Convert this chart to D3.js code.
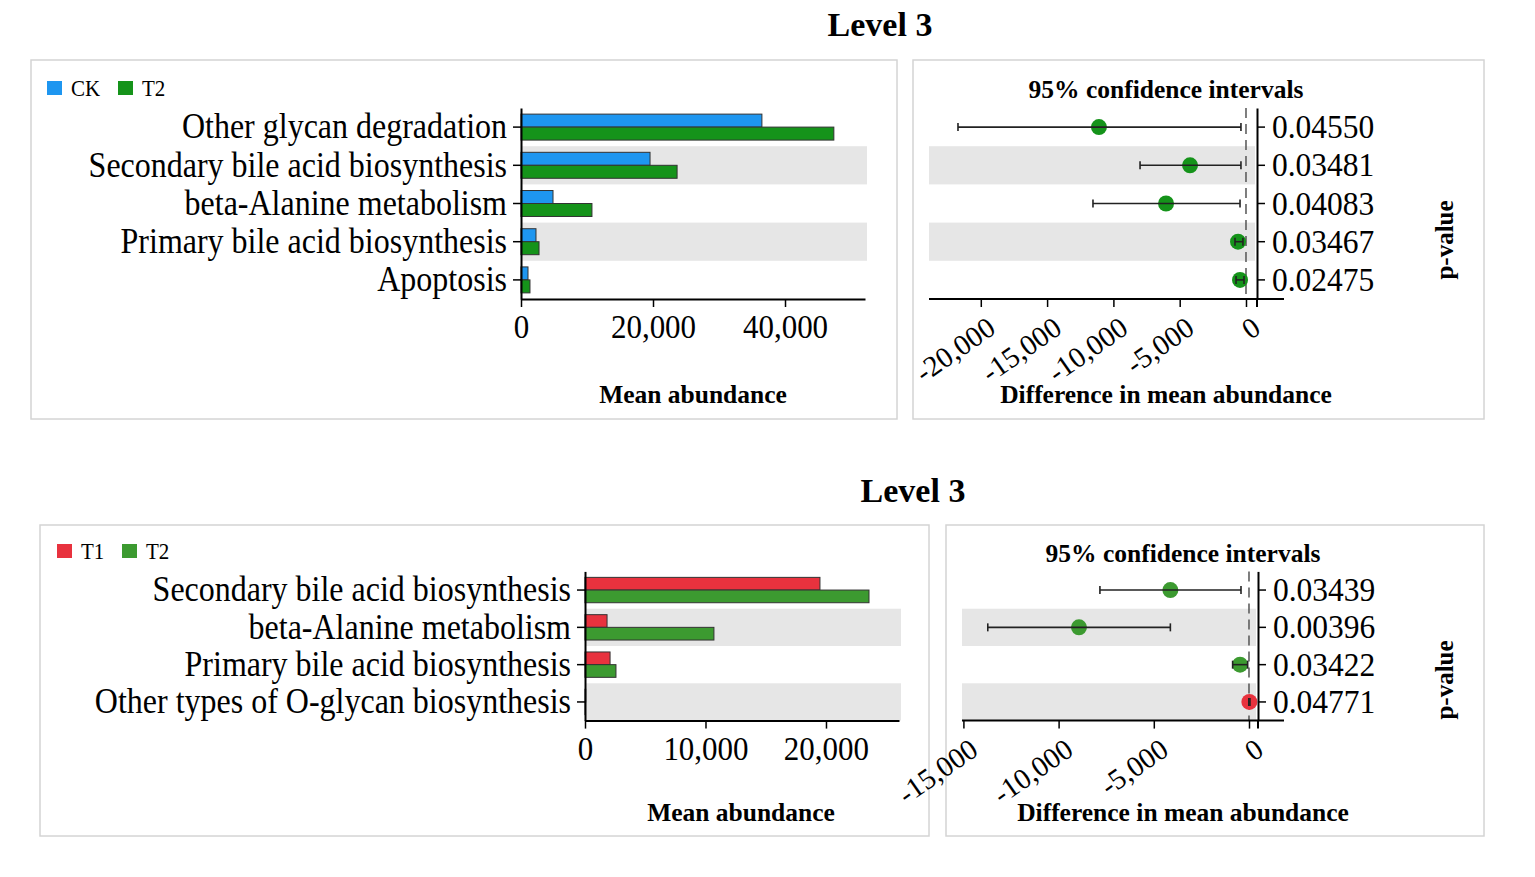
<!DOCTYPE html>
<html>
<head>
<meta charset="utf-8">
<script src="https://cdn.jsdelivr.net/npm/d3@7"></script>
<style>
  body { margin: 0; background: #fff; }
  svg text { font-family: "Liberation Serif", "Times New Roman", Times, serif; fill: #000; }
</style>
</head>
<body>
<div id="chart"></div>
<script>
// ---- data: CK vs T2 ----
const topCategories = [
  "Other glycan degradation",
  "Secondary bile acid biosynthesis",
  "beta-Alanine metabolism",
  "Primary bile acid biosynthesis",
  "Apoptosis"
];
const topCK = [36500, 19550, 4850, 2270, 1060];
const topT2 = [47400, 23650, 10750, 2730, 1360];
const topDiff = [-11090, -4220, -6030, -600, -450];
const topLower = [-21720, -7990, -11540, -830, -750];
const topUpper = [-380, -380, -450, -230, -150];
const topPValues = ["0.04550", "0.03481", "0.04083", "0.03467", "0.02475"];
const topBarTicks = [0, 20000, 40000];
const topDiffTicks = [-20000, -15000, -10000, -5000, 0];

// ---- data: T1 vs T2 ----
const bottomCategories = [
  "Secondary bile acid biosynthesis",
  "beta-Alanine metabolism",
  "Primary bile acid biosynthesis",
  "Other types of O-glycan biosynthesis"
];
const bottomT1 = [19500, 1830, 2080, 60];
const bottomT2 = [23570, 10700, 2570, 30];
const bottomDiff = [-4130, -8930, -470, 20];
const bottomLower = [-7830, -13720, -860, -10];
const bottomUpper = [-420, -4130, -70, 50];
const bottomPValues = ["0.03439", "0.00396", "0.03422", "0.04771"];
const bottomBarTicks = [0, 10000, 20000];
const bottomDiffTicks = [-15000, -10000, -5000, 0];

const svg = d3.select("#chart").append("svg")
  .attr("width", 1535)
  .attr("height", 877);

// plain hyphen for negatives, like the original
const fmt = d3.formatLocale({ decimal: ".", thousands: ",", grouping: [3], currency: ["", ""], minus: "-" }).format(",");
const STRETCH = "scale(1,1.1)";

function frame(b) {
  svg.append("rect")
    .attr("x", b.x).attr("y", b.y).attr("width", b.w).attr("height", b.h)
    .attr("fill", "none").attr("stroke", "#d4d4d4").attr("stroke-width", 1.5);
}

function styleAxis(g) {
  g.selectAll("path.domain").attr("stroke", "#000").attr("stroke-width", 2);
  g.selectAll(".tick line").attr("stroke", "#000").attr("stroke-width", 1.5);
}

function boldLabel(x, y, text, size, rotate) {
  svg.append("text")
    .attr("transform", `translate(${x},${y})` + (rotate ? ` rotate(${rotate})` : ""))
    .attr("text-anchor", "middle").attr("font-size", size).attr("font-weight", "bold")
    .text(text);
}

function drawBars(cfg) {
  frame(cfg.box);
  const p = cfg.plot;
  const x = d3.scaleLinear().domain([0, cfg.max]).range([p.left, p.right]);
  const y = d3.scaleBand().domain(cfg.categories).range([p.top, p.bottom]);
  const step = y.bandwidth();

  // alternating grey rows
  svg.append("g").selectAll("rect")
    .data(cfg.categories.filter((d, i) => i % 2 === 1))
    .join("rect")
    .attr("x", p.left).attr("width", p.right - p.left + 2)
    .attr("y", (d) => y(d)).attr("height", step)
    .attr("fill", "#e6e6e6");

  // bars
  cfg.groups.forEach((grp, gi) => {
    svg.append("g").selectAll("rect")
      .data(grp.values.map((v, i) => ({ c: cfg.categories[i], v })))
      .join("rect")
      .attr("x", x(0))
      .attr("y", (d) => y(d.c) + step * 0.16 + gi * step * 0.34)
      .attr("height", step * 0.34)
      .attr("width", (d) => x(d.v) - x(0))
      .attr("fill", grp.color)
      .attr("stroke", "#333")
      .attr("stroke-width", 1);
  });

  // axes
  const xg = svg.append("g").attr("transform", `translate(0,${p.bottom})`)
    .call(d3.axisBottom(x).tickValues(cfg.ticks).tickFormat(fmt).tickSize(8).tickSizeOuter(0));
  styleAxis(xg);
  xg.selectAll(".tick text")
    .attr("y", 0).attr("dy", 0).attr("font-size", 31)
    .attr("transform", "translate(0,39) " + STRETCH);

  const yg = svg.append("g").attr("transform", `translate(${p.left},0)`)
    .call(d3.axisLeft(y).tickSize(8).tickSizeOuter(0).tickPadding(6));
  styleAxis(yg);
  yg.selectAll(".tick text").attr("font-size", 32).attr("dy", "0.32em").attr("transform", STRETCH);

  // legend
  cfg.groups.forEach((grp, gi) => {
    const lx = cfg.legend.x + gi * cfg.legend.step;
    svg.append("rect")
      .attr("x", lx).attr("y", cfg.legend.y).attr("width", 15).attr("height", 14)
      .attr("fill", grp.color);
    svg.append("text")
      .attr("transform", `translate(${lx + 24},${cfg.legend.y + 15}) ${STRETCH}`)
      .attr("font-size", 21)
      .text(grp.name);
  });

  boldLabel(cfg.xLabel.x, cfg.xLabel.y, "Mean abundance", 25.5);
}

function drawCI(cfg) {
  frame(cfg.box);
  const p = cfg.plot;
  const x = d3.scaleLinear().domain(cfg.domain).range([p.left, p.right]);
  const y = d3.scaleBand().domain(d3.range(cfg.diff.length)).range([p.top, p.bottom]);
  const step = y.bandwidth();
  const cy = (i) => y(i) + step / 2;

  svg.append("g").selectAll("rect")
    .data(d3.range(cfg.diff.length).filter((i) => i % 2 === 1))
    .join("rect")
    .attr("x", p.left).attr("width", p.right - p.left - 2)
    .attr("y", (i) => y(i)).attr("height", step)
    .attr("fill", "#e6e6e6");

  // zero reference
  svg.append("line")
    .attr("x1", x(0)).attr("x2", x(0)).attr("y1", p.top).attr("y2", p.bottom)
    .attr("stroke", "#555").attr("stroke-width", 1.5).attr("stroke-dasharray", "10,6");

  const rows = cfg.diff.map((d, i) => ({ i, d, lo: cfg.lower[i], hi: cfg.upper[i] }));

  svg.append("g").selectAll("circle")
    .data(rows)
    .join("circle")
    .attr("cx", (r) => x(r.d)).attr("cy", (r) => cy(r.i)).attr("r", 8)
    .attr("fill", (r) => (r.d < 0 ? cfg.negColor : cfg.posColor));

  const eb = svg.append("g").attr("stroke", "#222").attr("stroke-width", 1.6);
  eb.selectAll("line.bar").data(rows).join("line").attr("class", "bar")
    .attr("x1", (r) => x(r.lo)).attr("x2", (r) => x(r.hi))
    .attr("y1", (r) => cy(r.i)).attr("y2", (r) => cy(r.i));
  eb.selectAll("line.lo").data(rows).join("line").attr("class", "lo")
    .attr("x1", (r) => x(r.lo)).attr("x2", (r) => x(r.lo))
    .attr("y1", (r) => cy(r.i) - 4).attr("y2", (r) => cy(r.i) + 4);
  eb.selectAll("line.hi").data(rows).join("line").attr("class", "hi")
    .attr("x1", (r) => x(r.hi)).attr("x2", (r) => x(r.hi))
    .attr("y1", (r) => cy(r.i) - 4).attr("y2", (r) => cy(r.i) + 4);

  // x axis, line runs past the p-value axis
  const xg = svg.append("g").attr("transform", `translate(0,${p.bottom})`)
    .call(d3.axisBottom(x).tickValues(cfg.ticks).tickFormat(fmt).tickSize(8).tickSizeOuter(0));
  xg.select("path.domain").remove();
  xg.append("line").attr("x1", p.left).attr("x2", cfg.axisEnd).attr("y1", 0).attr("y2", 0)
    .attr("stroke", "#000").attr("stroke-width", 2);
  styleAxis(xg);
  xg.selectAll(".tick text")
    .attr("x", 0).attr("y", 0).attr("dy", 0)
    .attr("text-anchor", "end")
    .attr("font-size", 29)
    .attr("transform", "translate(16,33) rotate(-35)");

  // p-value axis on the right
  const yg = svg.append("g").attr("transform", `translate(${p.right},0)`)
    .call(d3.axisRight(y).tickSize(8).tickSizeOuter(0).tickPadding(7)
      .tickFormat((i) => cfg.pValues[i]));
  styleAxis(yg);
  yg.append("line").attr("x1", 0).attr("x2", 0).attr("y1", p.bottom).attr("y2", p.bottom + 8)
    .attr("stroke", "#000").attr("stroke-width", 2);
  yg.selectAll(".tick text").attr("font-size", 31.5).attr("dy", "0.32em").attr("transform", STRETCH);

  boldLabel(cfg.title.x, cfg.title.y, "95% confidence intervals", 25.5);
  boldLabel(cfg.xLabel.x, cfg.xLabel.y, "Difference in mean abundance", 25.5);
  boldLabel(cfg.pLabel.x, cfg.pLabel.y, "p-value", 25, -90);
}

// ---- top: CK vs T2 ----
boldLabel(880, 36, "Level 3", 34);
drawBars({
  box: { x: 31, y: 60, w: 866, h: 359 },
  plot: { left: 521, right: 865, top: 108, bottom: 299 },
  categories: topCategories,
  groups: [
    { name: "CK", color: "#1e96f0", values: topCK },
    { name: "T2", color: "#15931a", values: topT2 }
  ],
  max: 52120,
  ticks: topBarTicks,
  legend: { x: 47, y: 81, step: 71 },
  xLabel: { x: 693, y: 403 }
});
drawCI({
  box: { x: 913, y: 60, w: 571, h: 359 },
  plot: { left: 929, right: 1257, top: 108, bottom: 299 },
  axisEnd: 1284,
  domain: [-23906, 830],
  ticks: topDiffTicks,
  diff: topDiff, lower: topLower, upper: topUpper,
  pValues: topPValues,
  negColor: "#15931a", posColor: "#1e96f0",
  title: { x: 1166, y: 98 },
  xLabel: { x: 1166, y: 403 },
  pLabel: { x: 1453, y: 240 }
});

// ---- bottom: T1 vs T2 ----
boldLabel(913, 502, "Level 3", 34);
drawBars({
  box: { x: 40, y: 525, w: 889, h: 311 },
  plot: { left: 585, right: 899, top: 571.4, bottom: 720.6 },
  categories: bottomCategories,
  groups: [
    { name: "T1", color: "#e8323e", values: bottomT1 },
    { name: "T2", color: "#3c9a30", values: bottomT2 }
  ],
  max: 26060,
  ticks: bottomBarTicks,
  legend: { x: 57, y: 544, step: 65 },
  xLabel: { x: 741, y: 821 }
});
drawCI({
  box: { x: 946, y: 525, w: 538, h: 311 },
  plot: { left: 962, right: 1258, top: 571.4, bottom: 720.6 },
  axisEnd: 1284,
  domain: [-15074, 473],
  ticks: bottomDiffTicks,
  diff: bottomDiff, lower: bottomLower, upper: bottomUpper,
  pValues: bottomPValues,
  negColor: "#3c9a30", posColor: "#e8323e",
  title: { x: 1183, y: 562 },
  xLabel: { x: 1183, y: 821 },
  pLabel: { x: 1453, y: 680 }
});
</script>
</body>
</html>
